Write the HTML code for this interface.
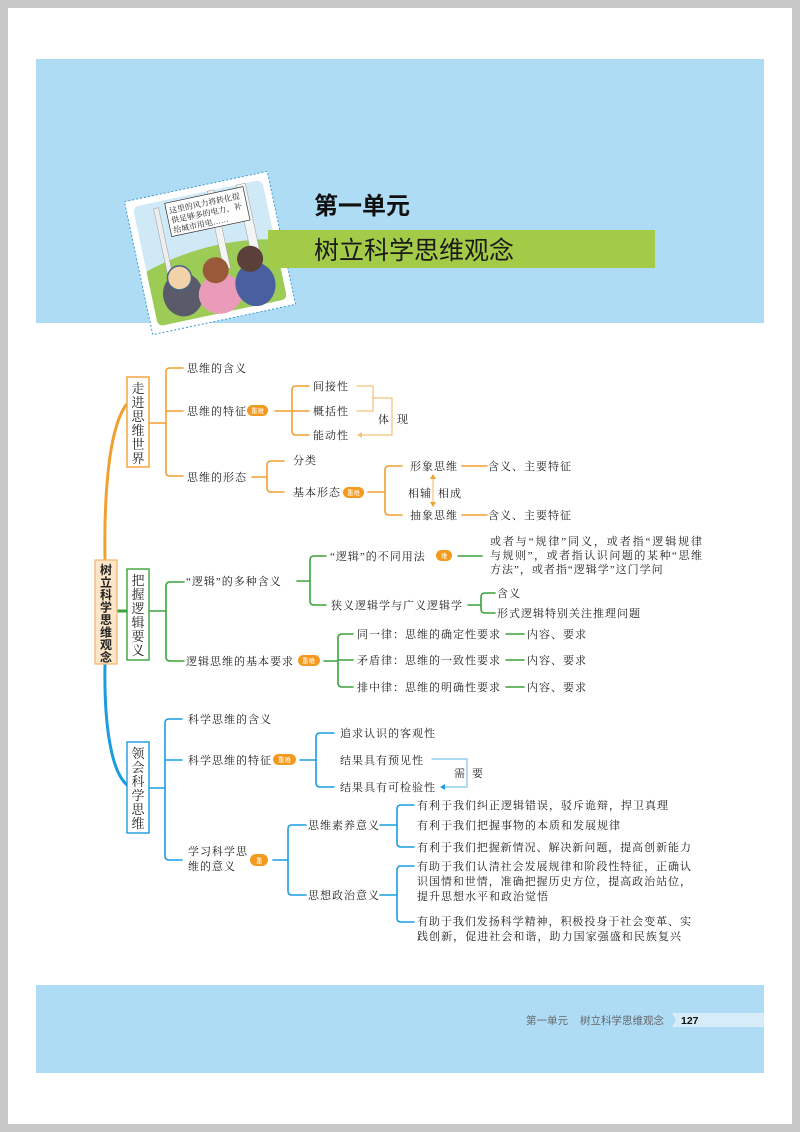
<!DOCTYPE html>
<html><head><meta charset="utf-8"><style>
html,body{margin:0;padding:0;background:#c8c8c8;}
svg{display:block;}
.t{font-family:"Liberation Serif","Noto Serif CJK SC",serif;font-size:11px;fill:#222;letter-spacing:1px;}
.b{font-family:"Liberation Sans","Noto Sans CJK SC",sans-serif;font-size:6.5px;fill:#fff;}
</style></head><body>
<svg width="800" height="1132" viewBox="0 0 800 1132" xmlns="http://www.w3.org/2000/svg">
<rect x="0" y="0" width="800" height="1132" fill="#c8c8c8"/>
<rect x="8" y="8" width="784" height="1116" fill="#fff"/>
<rect x="36" y="59" width="728" height="264" fill="#aedcf5"/>
<rect x="36" y="985" width="728" height="88" fill="#aedcf5"/>
<!-- cartoon card -->
<g transform="translate(210,253) rotate(-12)">
<rect x="-73" y="-68" width="146" height="136" fill="#fff" stroke="#3a9ad8" stroke-width="1" stroke-dasharray="2,2"/>
<rect x="-66" y="-61" width="132" height="122" rx="6" fill="#cfe9f7"/>
<path d="M-66,5 Q0,-15 66,0 L66,55 Q66,61 60,61 L-60,61 Q-66,61 -66,55Z" fill="#9ccc55"/>
<rect x="-46" y="-55" width="5" height="70" fill="#eee" stroke="#999" stroke-width=".5"/>
<rect x="10" y="-61" width="7" height="80" fill="#f4f4f4" stroke="#999" stroke-width=".5"/>
<rect x="40" y="-61" width="9" height="85" fill="#f4f4f4" stroke="#999" stroke-width=".5"/>
<rect x="-34" y="-58" width="80" height="34" fill="#fff" stroke="#333" stroke-width=".7"/>
<text x="-31" y="-47" font-family="Liberation Serif,'Noto Serif CJK SC',serif" font-size="8" fill="#222">这里的风力将转化提</text>
<text x="-31" y="-37" font-family="Liberation Serif,'Noto Serif CJK SC',serif" font-size="8" fill="#222">供足够多的电力，补</text>
<text x="-31" y="-27" font-family="Liberation Serif,'Noto Serif CJK SC',serif" font-size="8" fill="#222">给城市用电……</text>
<ellipse cx="-35" cy="35" rx="20" ry="22" fill="#5a5a6a"/>
<circle cx="-35" cy="18" r="12" fill="#f2d2a8" stroke="#468" stroke-width="1.5"/>
<ellipse cx="2" cy="42" rx="22" ry="20" fill="#e99bb8"/>
<circle cx="2" cy="18" r="13" fill="#9a5a3a"/>
<ellipse cx="38" cy="40" rx="20" ry="22" fill="#4a5fa0"/>
<circle cx="38" cy="14" r="13" fill="#5a4038"/>
</g>
<text x="314" y="214" font-family="Liberation Sans,'Noto Sans CJK SC',sans-serif" font-size="24" font-weight="bold" fill="#111">第一单元</text>
<rect x="268" y="230" width="387" height="38" fill="#a4cb47"/>
<text x="314" y="259" font-family="Liberation Sans,'Noto Sans CJK SC',sans-serif" font-size="25" fill="#1a1a1a">树立科学思维观念</text>

<g fill="none" stroke-linecap="round">
<path d="M105,560 C104,500 108,430 126,405" stroke="#f0a030" stroke-width="3"/>
<path d="M117,611 L127,611" stroke="#3aa33a" stroke-width="3"/>
<path d="M105,664 C104,720 110,770 127,785" stroke="#1a9de0" stroke-width="3"/>
<g stroke="#f0a030" stroke-width="1.6">
<path d="M149,423 H166 M183,368 H170 Q166,368 166,372 V472 Q166,476 170,476 H183 M166,411 H183"/>
<path d="M275,411 H309 M309,386 H296 Q292,386 292,390 V431 Q292,435 296,435 H309"/>
<path d="M252,477 H267 M284,461 H271 Q267,461 267,465 V488 Q267,492 271,492 H284"/>
<path d="M368,492 H385 M402,466 H389 Q385,466 385,470 V511 Q385,515 389,515 H402"/>
<path d="M462,466 H487 M462,515 H487"/>
</g>
<g stroke="#f5c27a" stroke-width="1.2">
<path d="M357,386 H373 V411 H357 M373,398 H392 V435 H359"/>
<path d="M433,476 V505"/>
</g>
<g stroke="#3aa33a" stroke-width="1.6">
<path d="M149,611 H166 M184,582 H170 Q166,582 166,586 V657 Q166,661 170,661 H184"/>
<path d="M297,581 H310 M326,556 H314 Q310,556 310,560 V601 Q310,605 314,605 H326"/>
<path d="M458,556 H482 M468,605 H481 M495,593 H485 Q481,593 481,597 V609 Q481,613 485,613 H495"/>
<path d="M324,661 H338 M353,634 H342 Q338,634 338,638 V683 Q338,687 342,687 H353 M338,660 H353"/>
<path d="M506,634 H524 M506,660 H524 M506,687 H524"/>
</g>
<g stroke="#1a9de0" stroke-width="1.6">
<path d="M149,788 H165 M182,719 H169 Q165,719 165,723 V856 Q165,860 169,860 H182 M165,760 H182"/>
<path d="M300,760 H316 M334,733 H320 Q316,733 316,737 V783 Q316,787 320,787 H334"/>
<path d="M273,860 H288 M306,825 H292 Q288,825 288,829 V891 Q288,895 292,895 H306"/>
<path d="M380,825 H397 M414,805 H401 Q397,805 397,809 V843 Q397,847 401,847 H414"/>
<path d="M380,895 H397 M414,866 H401 Q397,866 397,870 V918 Q397,922 401,922 H414"/>
</g>
<path d="M432,759 H467 V787 H442" stroke="#7cc4ec" stroke-width="1.2"/>
</g>
<path d="M357,435 l5,-3 v6z" fill="#f5c27a"/>
<path d="M433,474 l-3,5 h6z M433,507 l-3,-5 h6z" fill="#f0a030"/>
<path d="M440,787 l5,-3 v6z" fill="#1a9de0"/>

<rect x="95" y="560" width="22" height="104" fill="#fde6c8" stroke="#f2b36b" stroke-width="1.2"/>
<g font-family="Liberation Sans,'Noto Sans CJK SC',sans-serif" font-size="12" font-weight="bold" fill="#222" text-anchor="middle">
<text x="106" y="574">树</text><text x="106" y="586.5">立</text><text x="106" y="599">科</text><text x="106" y="611.5">学</text><text x="106" y="624">思</text><text x="106" y="636.5">维</text><text x="106" y="649">观</text><text x="106" y="661.5">念</text>
</g>
<rect x="127" y="377" width="22" height="90" fill="#fff" stroke="#f0a030" stroke-width="1.4"/>
<rect x="127" y="569" width="22" height="91" fill="#fff" stroke="#3aa33a" stroke-width="1.4"/>
<rect x="127" y="742" width="22" height="91" fill="#fff" stroke="#1a9de0" stroke-width="1.4"/>
<g font-family="Liberation Serif,'Noto Serif CJK SC',serif" font-size="13" fill="#222" text-anchor="middle">
<text x="138" y="393">走</text><text x="138" y="407">进</text><text x="138" y="421">思</text><text x="138" y="435">维</text><text x="138" y="449">世</text><text x="138" y="463">界</text>
<text x="138" y="585">把</text><text x="138" y="599">握</text><text x="138" y="613">逻</text><text x="138" y="627">辑</text><text x="138" y="641">要</text><text x="138" y="655">义</text>
<text x="138" y="758">领</text><text x="138" y="772">会</text><text x="138" y="786">科</text><text x="138" y="800">学</text><text x="138" y="814">思</text><text x="138" y="828">维</text>
</g>

<g fill="#f39a1e">
<rect x="247" y="405" width="21" height="11" rx="5.5"/>
<rect x="343" y="487" width="21" height="11" rx="5.5"/>
<rect x="436" y="550" width="16" height="11" rx="5.5"/>
<rect x="298" y="655" width="22" height="11" rx="5.5"/>
<rect x="273" y="754" width="23" height="11" rx="5.5"/>
<rect x="250" y="854" width="18" height="12" rx="6"/>
</g>
<text class="b" x="251" y="413">重难</text>
<text class="b" x="347" y="495">重难</text>
<text class="b" x="441" y="558">难</text>
<text class="b" x="302" y="663">重难</text>
<text class="b" x="278" y="762">重难</text>
<text class="b" x="256" y="863">重</text>

<g>
<text class="t" x="187" y="372">思维的含义</text>
<text class="t" x="187" y="415">思维的特征</text>
<text class="t" x="187" y="481">思维的形态</text>
<text class="t" x="313" y="390">间接性</text>
<text class="t" x="313" y="415">概括性</text>
<text class="t" x="313" y="439">能动性</text>
<text class="t" x="378" y="423">体</text><text class="t" x="397" y="423">现</text>
<text class="t" x="293" y="464">分类</text>
<text class="t" x="293" y="496">基本形态</text>
<text class="t" x="410" y="470">形象思维</text>
<text class="t" x="488" y="470">含义、主要特征</text>
<text class="t" x="408" y="497">相辅</text><text class="t" x="438" y="497">相成</text>
<text class="t" x="410" y="519">抽象思维</text>
<text class="t" x="488" y="519">含义、主要特征</text>

<text class="t" x="186" y="585">“逻辑”的多种含义</text>
<text class="t" x="186" y="665">逻辑思维的基本要求</text>
<text class="t" x="330" y="560">“逻辑”的不同用法</text>
<text class="t" x="490" y="545" textLength="213">或者与“规律”同义，或者指“逻辑规律</text>
<text class="t" x="490" y="559" textLength="213">与规则”，或者指认识问题的某种“思维</text>
<text class="t" x="490" y="573">方法”，或者指“逻辑学”这门学问</text>
<text class="t" x="331" y="609">狭义逻辑学与广义逻辑学</text>
<text class="t" x="497" y="597">含义</text>
<text class="t" x="497" y="617">形式逻辑特别关注推理问题</text>
<text class="t" x="357" y="638">同一律：思维的确定性要求</text>
<text class="t" x="357" y="664">矛盾律：思维的一致性要求</text>
<text class="t" x="357" y="691">排中律：思维的明确性要求</text>
<text class="t" x="527" y="638">内容、要求</text>
<text class="t" x="527" y="664">内容、要求</text>
<text class="t" x="527" y="691">内容、要求</text>

<text class="t" x="188" y="723">科学思维的含义</text>
<text class="t" x="188" y="764">科学思维的特征</text>
<text class="t" x="188" y="855">学习科学思</text>
<text class="t" x="188" y="870">维的意义</text>
<text class="t" x="340" y="737">追求认识的客观性</text>
<text class="t" x="340" y="764">结果具有预见性</text>
<text class="t" x="340" y="791">结果具有可检验性</text>
<text class="t" x="454" y="777">需</text><text class="t" x="472" y="777">要</text>
<text class="t" x="308" y="829">思维素养意义</text>
<text class="t" x="308" y="899">思想政治意义</text>
<text class="t" x="417" y="809" textLength="252">有利于我们纠正逻辑错误，驳斥诡辩，捍卫真理</text>
<text class="t" x="417" y="829">有利于我们把握事物的本质和发展规律</text>
<text class="t" x="417" y="851" textLength="275">有利于我们把握新情况、解决新问题，提高创新能力</text>
<text class="t" x="417" y="870" textLength="275">有助于我们认清社会发展规律和阶段性特征，正确认</text>
<text class="t" x="417" y="885" textLength="275">识国情和世情，准确把握历史方位，提高政治站位，</text>
<text class="t" x="417" y="900">提升思想水平和政治觉悟</text>
<text class="t" x="417" y="925" textLength="275">有助于我们发扬科学精神，积极投身于社会变革、实</text>
<text class="t" x="417" y="940" textLength="265">践创新，促进社会和谐，助力国家强盛和民族复兴</text>
</g>

<polygon points="672,1013 764,1013 764,1027 672,1027 676,1020" fill="#d6ecf8"/>
<text x="526" y="1024" font-family="Liberation Sans,'Noto Sans CJK SC',sans-serif" font-size="10.5" fill="#666">第一单元</text>
<text x="580" y="1024" font-family="Liberation Sans,'Noto Sans CJK SC',sans-serif" font-size="10.5" fill="#666">树立科学思维观念</text>
<text x="681" y="1024" font-family="Liberation Sans,sans-serif" font-size="10.5" font-weight="bold" fill="#111">127</text>
</svg>
</body></html>
